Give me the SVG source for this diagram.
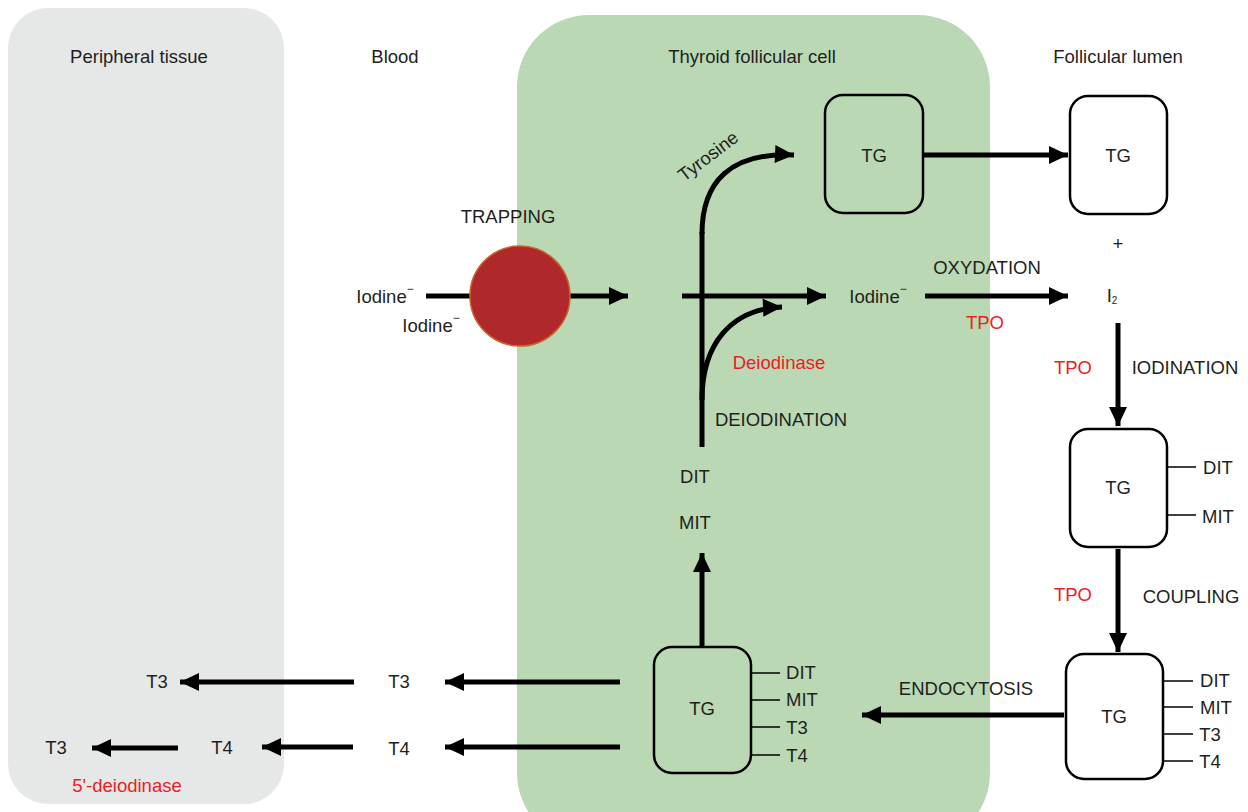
<svg xmlns="http://www.w3.org/2000/svg" width="1248" height="812" viewBox="0 0 1248 812">
<style>
text{font-family:"Liberation Sans",Arial,sans-serif;font-size:18.5px;fill:#231f20;text-anchor:middle;dominant-baseline:central}
.red{fill:#ee1c25}
.box{fill:none;stroke:#000;stroke-width:2.5}
.thin{stroke:#000;stroke-width:1.5;fill:none}
.arr{stroke:#000;stroke-width:5;fill:none;marker-end:url(#ah)}
.ln{stroke:#000;stroke-width:5;fill:none}
</style>
<defs>
<marker id="ah" markerUnits="userSpaceOnUse" markerWidth="22" markerHeight="22" viewBox="0 0 22 22" refX="20" refY="11" orient="auto">
<path d="M1,2 L20,11 L1,20 Z" fill="#000"/>
</marker>
</defs>
<g id="panels">
<rect x="8" y="8" width="276" height="796" rx="40" fill="#e6e7e7"/>
<rect x="517" y="15" width="473" height="830" rx="72" fill="#b9d8b3"/>
</g>
<g id="headers">
<text x="139" y="56">Peripheral tissue</text>
<text x="395" y="56">Blood</text>
<text x="752" y="56">Thyroid follicular cell</text>
<text x="1118" y="56">Follicular lumen</text>
</g>
<g id="connectors">
<line class="ln" x1="426" y1="296" x2="472" y2="296"/>
<line class="arr" x1="568" y1="296" x2="628" y2="296"/>
<line class="arr" x1="682" y1="296" x2="826" y2="296"/>
<path class="ln" d="M702,447 L702,232"/>
<path class="arr" d="M702,234 C702,182 730,152 794,155"/>
<path class="arr" d="M702,400 C702,345 730,309 782,307"/>
<line class="arr" x1="923" y1="155" x2="1068" y2="155"/>
<line class="arr" x1="925" y1="296" x2="1068" y2="296"/>
<line class="arr" x1="1118" y1="323" x2="1118" y2="426"/>
<line class="arr" x1="1118" y1="549" x2="1118" y2="652"/>
<line class="arr" x1="1064" y1="715" x2="862" y2="715"/>
<line class="arr" x1="702" y1="647" x2="702" y2="553"/>
<line class="arr" x1="620" y1="682" x2="445" y2="682"/>
<line class="arr" x1="620" y1="747" x2="445" y2="747"/>
<line class="arr" x1="354" y1="682" x2="180" y2="682"/>
<line class="arr" x1="353" y1="747" x2="262" y2="747"/>
<line class="arr" x1="178" y1="748" x2="92" y2="748"/>
</g>
<g id="trap">
<circle cx="520" cy="296" r="50" fill="#b0282c" stroke="#c8642c" stroke-width="1.5"/>
<text x="508" y="216">TRAPPING</text>
<text x="385" y="296">Iodine<tspan dy="-7" font-size="12">−</tspan></text>
<text x="431" y="325">Iodine<tspan dy="-7" font-size="12">−</tspan></text>
</g>
<g id="cell-labels">
<text x="708" y="156" transform="rotate(-37 708 156)">Tyrosine</text>
<text x="878" y="296">Iodine<tspan dy="-7" font-size="12">−</tspan></text>
<text class="red" x="779" y="362">Deiodinase</text>
<text x="781" y="419">DEIODINATION</text>
<text x="695" y="476">DIT</text>
<text x="695" y="522">MIT</text>
</g>
<g id="tg-cell-top">
<rect class="box" x="825" y="95" width="98" height="118" rx="18"/>
<text x="874" y="155">TG</text>
</g>
<g id="tg-lumen-top">
<rect class="box" x="1070" y="96" width="97" height="118" rx="18" fill="#fff"/>
<text x="1118" y="155">TG</text>
<text x="1118" y="243">+</text>
<text x="1112" y="295">I<tspan dy="5" font-size="10">2</tspan></text>
</g>
<g id="lumen-labels">
<text x="987" y="267">OXYDATION</text>
<text class="red" x="985" y="322">TPO</text>
<text class="red" x="1073" y="367">TPO</text>
<text x="1185" y="367">IODINATION</text>
<text class="red" x="1073" y="594">TPO</text>
<text x="1191" y="596">COUPLING</text>
<text x="966" y="688">ENDOCYTOSIS</text>
</g>
<g id="tg-iodinated">
<rect class="box" x="1070" y="429" width="97" height="118" rx="18"/>
<text x="1118" y="487">TG</text>
<line class="thin" x1="1167" y1="467" x2="1196" y2="467"/>
<line class="thin" x1="1167" y1="515" x2="1196" y2="515"/>
<text x="1218" y="467">DIT</text>
<text x="1218" y="516">MIT</text>
</g>
<g id="tg-coupled">
<rect class="box" x="1066" y="654" width="97" height="125" rx="18"/>
<text x="1114" y="716">TG</text>
<line class="thin" x1="1163" y1="681" x2="1193" y2="681"/>
<line class="thin" x1="1163" y1="707" x2="1193" y2="707"/>
<line class="thin" x1="1163" y1="734" x2="1193" y2="734"/>
<line class="thin" x1="1163" y1="761" x2="1193" y2="761"/>
<text x="1215" y="680">DIT</text>
<text x="1216" y="707">MIT</text>
<text x="1210" y="734">T3</text>
<text x="1210" y="761">T4</text>
</g>
<g id="tg-cell-bottom">
<rect class="box" x="654" y="647" width="97" height="126" rx="18"/>
<text x="702" y="708">TG</text>
<line class="thin" x1="751" y1="673" x2="780" y2="673"/>
<line class="thin" x1="751" y1="700" x2="780" y2="700"/>
<line class="thin" x1="751" y1="727" x2="780" y2="727"/>
<line class="thin" x1="751" y1="755" x2="780" y2="755"/>
<text x="801" y="672">DIT</text>
<text x="802" y="699">MIT</text>
<text x="797" y="727">T3</text>
<text x="797" y="755">T4</text>
</g>
<g id="blood-labels">
<text x="399" y="681">T3</text>
<text x="399" y="748">T4</text>
<text x="157" y="681">T3</text>
<text x="222" y="747">T4</text>
<text x="56" y="747">T3</text>
<text class="red" x="127" y="785">5'-deiodinase</text>
</g>
</svg>
